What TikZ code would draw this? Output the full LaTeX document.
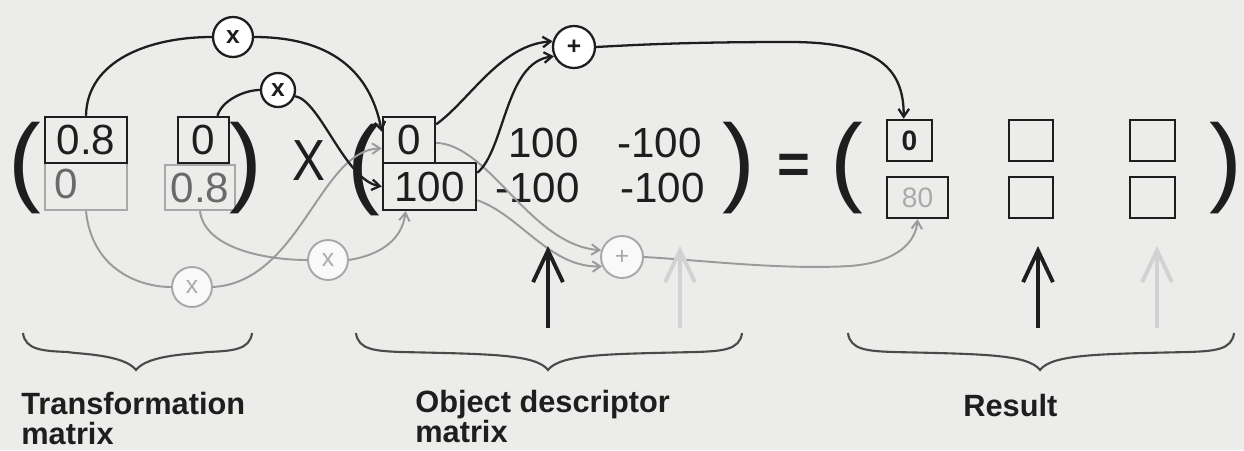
\documentclass[tikz,border=0pt]{standalone}
\usepackage{fontspec}
\setmainfont{Liberation Sans}
\usetikzlibrary{arrows.meta}
\newdimen\PX \PX=0.02cm
\definecolor{bgc}{HTML}{ECECEA}
\definecolor{ink}{HTML}{1E1E1E}
\definecolor{gline}{HTML}{9A9A9A}
\definecolor{gbox}{HTML}{A8A8A8}
\definecolor{gtext}{HTML}{6A6A6A}
\definecolor{gres}{HTML}{AAAAAA}
\definecolor{lgray}{HTML}{D2D2D2}
\definecolor{brcol}{HTML}{4A4A4A}
\newcommand\fNum{\fontsize{24pt}{28pt}\selectfont}
\newcommand\fPar{\fontsize{56pt}{60pt}\selectfont}
\newcommand\fRes{\fontsize{16pt}{18pt}\selectfont}
\newcommand\fOp{\fontsize{14pt}{16pt}\selectfont}
\newcommand\fLab{\fontsize{17.5pt}{16.6pt}\selectfont\bfseries}
\newcommand\curlyb[3]{\draw[brc] (#1,333) .. controls (#1+2,350) and (#1+20,351) .. (#1+45,352) .. controls (#3-60,354) and (#3-12,354) .. (#3,370) .. controls (#3+12,354) and (#3+60,354) .. (#2-45,352) .. controls (#2-20,351) and (#2-2,350) .. (#2,333);}
\begin{document}
\begin{tikzpicture}[x=0.02cm,y=-0.02cm,
  bxk/.style={rectangle, draw=ink, line width=1.4pt, inner sep=0pt, font=\fNum, text=ink},
  bxg/.style={rectangle, draw=gbox, line width=1.4pt, inner sep=0pt, font=\fNum, text=gtext},
  bxr/.style={rectangle, draw=ink, line width=1.4pt, inner sep=0pt, minimum height=41\PX},
  num/.style={font=\fNum, text=ink, inner sep=0pt, anchor=base west},
  par/.style={font=\fPar, text=ink, inner sep=0pt},
  opk/.style={circle, draw=ink, line width=1.3pt, fill=white, minimum size=40\PX, inner sep=0pt, font=\fOp\bfseries, text=ink},
  opg/.style={circle, draw=gbox, line width=1.1pt, fill=white!70!bgc, minimum size=40\PX, inner sep=0pt, font=\fOp, text=gres},
  bl/.style={draw=ink, line width=1.3pt},
  gl/.style={draw=gline, line width=1.1pt},
  >={Straight Barb[length=4.5pt,width=6pt]},
  bigk/.style={draw=ink, line width=2.2pt, -{Straight Barb[length=18pt,width=17pt,line width=2.2pt]}},
  bigg/.style={draw=lgray, line width=2.2pt, -{Straight Barb[length=18pt,width=17pt,line width=2.2pt]}},
  brc/.style={draw=brcol, line width=1.2pt},
  lab/.style={font=\fLab, text=ink, inner sep=0pt, anchor=base west, align=left}
]
\useasboundingbox (0,0) rectangle (1244,450);
\fill[bgc] (0,0) rectangle (1244,450);

% transformation matrix
\node[par] (p1) at (25,168) {(};
\node[bxg, minimum width=82\PX, minimum height=47\PX] (t21) at (86,186.5) {};
\node[num, text=gtext] (t21txt) at (54,198) {0};
\node[bxg, minimum width=70\PX, minimum height=45\PX] (t22) at (200,187.5) {0.8};
\node[bxk, minimum width=82\PX, minimum height=46\PX] (t11) at (86,140) {0.8};
\node[bxk, minimum width=51\PX, minimum height=46\PX] (t12) at (203.5,140) {0};
\node[par] (p2) at (246,168) {)};
\node[font=\fontsize{33pt}{36pt}\selectfont, text=ink, inner sep=0pt] (times) at (309,161) {\scalebox{0.85}[1]{X}};

% object matrix
\node[par] (p3) at (364,170) {(};
\node[bxk, minimum width=93\PX, minimum height=47\PX] (o2) at (429.5,186.5) {100};
\node[bxk, minimum width=52\PX, minimum height=46\PX] (o1) at (409,140) {0};
\node[num] (n12) at (508,157) {100};
\node[num] (n13) at (617,157) {-100};
\node[num] (n22) at (495,202) {-100};
\node[num] (n23) at (620,202) {-100};
\node[par] (p4) at (739,168) {)};
\node[font=\fontsize{32pt}{36pt}\selectfont\bfseries, text=ink, inner sep=0pt] (eq) at (794,169) {=};

% result matrix
\node[par] (p5) at (847,168) {(};
\node[bxr, minimum width=45\PX, font=\fRes\bfseries, text=ink] (r11) at (909.5,140.5) {0};
\node[bxr, minimum width=61\PX, font=\fRes, text=gres] (r21) at (917.5,197.5) {80};
\node[bxr, minimum width=44\PX] (r12) at (1031,140.5) {};
\node[bxr, minimum width=44\PX] (r22) at (1031,197.5) {};
\node[bxr, minimum width=45\PX] (r13) at (1152.5,140.5) {};
\node[bxr, minimum width=45\PX] (r23) at (1152.5,197.5) {};
\node[par] (p6) at (1226,168) {)};

% operator circles
\node[opk] (m1) at (233,37) {x};
\node[opk, minimum size=34\PX] (m2) at (278,90) {x};
\node[opk, minimum size=42\PX] (s1) at (574,47) {+};
\node[opg] (g1) at (192,287) {x};
\node[opg] (g2) at (328,260) {x};
\node[opg, minimum size=42\PX] (s2) at (622,257) {+};

% gray connectors
\draw[gl] (t21.south) .. controls (92,270) and (140,287) .. (g1.west);
\draw[gl,->] (g1.east) .. controls (300,282) and (320,150) .. (o1.197);
\draw[gl] (t22.south) .. controls (205,250) and (270,260) .. (g2.west);
\draw[gl,->] (g2.east) .. controls (380,255) and (402,240) .. (o2.226);
\draw[gl,->] (o1.-6) .. controls (490,145) and (530,245) .. (s2.162);
\draw[gl,->] (o2.-16) .. controls (520,215) and (550,268) .. (s2.205);
\coordinate (gmid) at (850,266);
\draw[gl,->] (s2.east) .. controls (700,260) and (780,270) .. (gmid) .. controls (900,262) and (916,240) .. (r21.south);

% black connectors
\draw[bl] (t11.north) .. controls (87,60) and (150,37) .. (m1.west);
\draw[bl,->] (m1.east) .. controls (340,37) and (372,80) .. (o1.163);
\draw[bl] (t12.60) .. controls (222,100) and (245,90) .. (m2.west);
\draw[bl,->] (m2.-20) .. controls (320,100) and (345,180) .. (o2.west);
\draw[bl,->] (o1.30) .. controls (470,100) and (500,45) .. (s1.165);
\draw[bl,->] (o2.16) .. controls (505,150) and (505,62) .. (s1.205);
\coordinate (kmid) at (790,42);
\draw[bl,->] (s1.east) .. controls (650,44) and (700,42) .. (kmid) .. controls (880,42) and (904,70) .. (r11.105);

% column arrows
\coordinate (a1b) at (548,328); \coordinate (a1t) at (548,246);
\coordinate (a2b) at (680,328); \coordinate (a2t) at (680,246);
\coordinate (a3b) at (1038,328); \coordinate (a3t) at (1038,246);
\coordinate (a4b) at (1157,328); \coordinate (a4t) at (1157,246);
\draw[bigg] (a2b) -- (a2t);
\draw[bigg] (a4b) -- (a4t);
\draw[bigk] (a1b) -- (a1t);
\draw[bigk] (a3b) -- (a3t);

% braces
\curlyb{23}{252}{136}
\curlyb{356}{742}{548}
\curlyb{848}{1234}{1040}

% labels
\node[lab] (l1) at (21,444) {Transformation\\matrix};
\node[lab] (l2) at (415,442) {Object descriptor\\matrix};
\node[lab] (l3) at (963,416) {Result};
\end{tikzpicture}
\end{document}
